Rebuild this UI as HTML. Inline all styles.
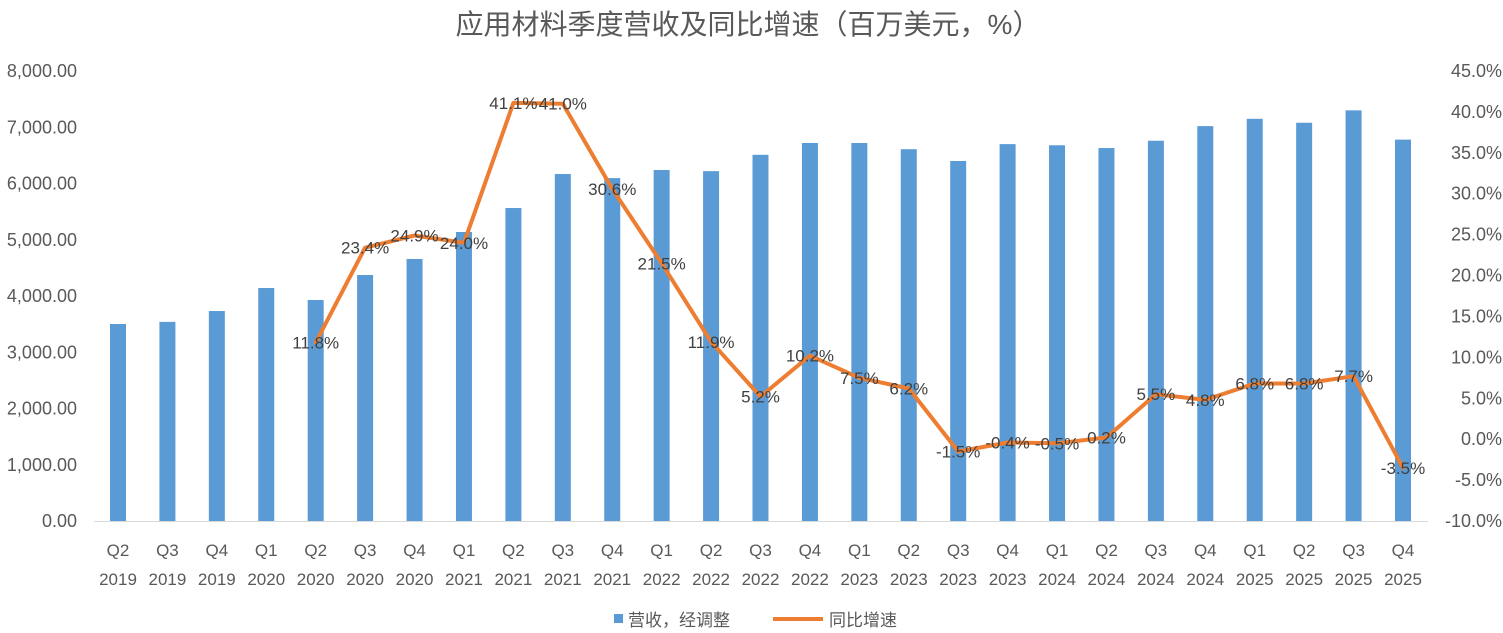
<!DOCTYPE html>
<html><head><meta charset="utf-8"><style>
html,body{margin:0;padding:0;background:#fff;}
svg{display:block;font-family:"Liberation Sans","Noto Sans CJK SC",sans-serif;}
</style></head><body>
<svg id="c" width="1503" height="633" xmlns="http://www.w3.org/2000/svg">
<text x="748" y="34" text-anchor="middle" font-size="28" fill="#595959">应用材料季度营收及同比增速（百万美元，%）</text>
</svg>
<script>
(function(){
var s=document.getElementById('c'),ns='http://www.w3.org/2000/svg';
function el(t,a,txt){var e=document.createElementNS(ns,t);for(var k in a)e.setAttribute(k,a[k]);if(txt!=null)e.textContent=txt;s.appendChild(e);return e;}
var y0=521,T=71,h=y0-T;
function yl(v){return y0-v/8000*h;}
function yr(p){return y0-(p+10)/55*h;}
var cats=[["Q2","2019"],["Q3","2019"],["Q4","2019"]];
var qs=["Q1","Q2","Q3","Q4"];
for(var yy=2020;yy<=2025;yy++)for(var i=0;i<4;i++)cats.push([qs[i],""+yy]);
var vals=[3502,3540,3733,4142,3929,4373,4658,5138,5564,6169,6096,6240,6220,6510,6720,6720,6610,6400,6700,6680,6630,6760,7020,7150,7080,7300,6780];
var g=[11.8,23.4,24.9,24.0,41.1,41.0,30.6,21.5,11.9,5.2,10.2,7.5,6.2,-1.5,-0.4,-0.5,0.2,5.5,4.8,6.8,6.8,7.7,-3.5];
var x0=118,dx=(1403-118)/26;
for(var v=0;v<=8000;v+=1000)el('text',{x:77,y:yl(v)+6,'text-anchor':'end','font-size':18,fill:'#595959'},v.toLocaleString('en-US')+'.00');
for(var p=-10;p<=45;p+=5)el('text',{x:1502,y:yr(p)+6,'text-anchor':'end','font-size':18,fill:'#595959'},p.toFixed(1)+'%');
for(var i=0;i<27;i++){var x=x0+i*dx;
el('rect',{x:x-8,y:yl(vals[i]),width:16,height:y0-yl(vals[i]),fill:'#5b9bd5'});
el('text',{x:x,y:556,'text-anchor':'middle','font-size':17,fill:'#595959'},cats[i][0]);
el('text',{x:x,y:585,'text-anchor':'middle','font-size':17,fill:'#595959'},cats[i][1]);}
el('line',{x1:94,y1:y0+.5,x2:1428,y2:y0+.5,stroke:'#d9d9d9','stroke-width':1});
var pts=g.map(function(p,j){return (x0+(j+4)*dx).toFixed(1)+','+yr(p).toFixed(1);}).join(' ');
el('polyline',{points:pts,fill:'none',stroke:'#ed7d31','stroke-width':4,'stroke-linejoin':'round','stroke-linecap':'round'});
g.forEach(function(p,j){el('text',{x:x0+(j+4)*dx,y:yr(p)+6,'text-anchor':'middle','font-size':17,fill:'#404040'},p.toFixed(1)+'%');});
el('rect',{x:614,y:614,width:9,height:9,fill:'#5b9bd5'});
el('text',{x:628,y:626,'font-size':17,fill:'#595959'},'营收，经调整');
el('line',{x1:773,y1:619,x2:823,y2:619,stroke:'#ed7d31','stroke-width':4});
el('text',{x:829,y:626,'font-size':17,fill:'#595959'},'同比增速');
})();
</script>
</body></html>
